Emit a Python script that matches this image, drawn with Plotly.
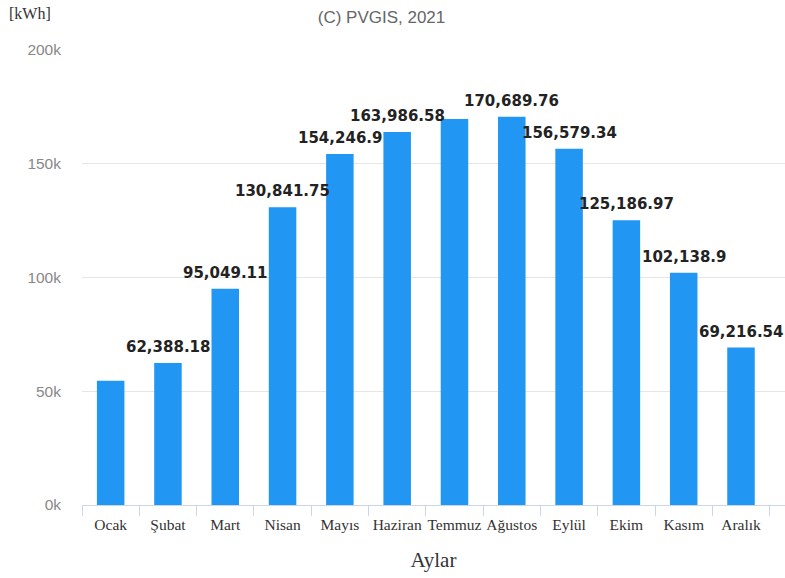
import plotly.graph_objects as go

# Monthly PV energy output (kWh)
months = ["Ocak", "Şubat", "Mart", "Nisan", "Mayıs", "Haziran",
          "Temmuz", "Ağustos", "Eylül", "Ekim", "Kasım", "Aralık"]
energy_kwh = [54600, 62388.18, 95049.11, 130841.75, 154246.9, 163986.58,
              169700, 170689.76, 156579.34, 125186.97, 102138.9, 69216.54]
# Which bars carry a value label
labelled = [False, True, True, True, True, True,
            False, True, True, True, True, True]

y_ticks = [0, 50000, 100000, 150000, 200000]
y_tick_text = ["0k", "50k", "100k", "150k", "200k"]

fig = go.Figure(go.Bar(
    x=months,
    y=energy_kwh,
    marker=dict(color="#2196F3", line=dict(width=0)),
    hoverinfo="x+y",
))

for m, v, show in zip(months, energy_kwh, labelled):
    if not show:
        continue
    txt = f"{v:,.2f}".rstrip("0").rstrip(".")
    fig.add_annotation(
        x=m, y=v, text=txt, showarrow=False, yshift=16,
        xanchor="center", yanchor="middle",
        font=dict(family="DejaVu Sans", size=15, color="#222222", weight="bold"),
    )

fig.add_annotation(
    xref="paper", yref="paper", x=-0.107, y=1.08,
    xanchor="left", yanchor="middle", showarrow=False,
    text="[kWh]",
    font=dict(family="Liberation Serif", size=16, color="#333333"),
)

fig.update_layout(
    width=785, height=578,
    margin=dict(l=82, r=0, t=50, b=73),
    paper_bgcolor="white", plot_bgcolor="white",
    bargap=0.52,
    showlegend=False,
    title=dict(
        text="(C) PVGIS, 2021",
        x=0.486, xanchor="center", xref="container",
        y=1 - 17 / 578, yanchor="middle", yref="container",
        font=dict(family="Liberation Sans", size=17, color="#666666"),
    ),
    xaxis=dict(
        type="category",
        automargin=False,
        tickangle=0,
        showline=True, linecolor="#ccd6eb", linewidth=1,
        ticks="outside", tickson="boundaries", ticklen=10, tickcolor="#ccd6eb",
        showgrid=False,
        ticklabelstandoff=5,
        tickfont=dict(family="Liberation Serif", size=15.5, color="#333333"),
        title=dict(text="Aylar", standoff=20,
                   font=dict(family="Liberation Serif", size=21, color="#333333")),
    ),
    yaxis=dict(
        automargin=False,
        range=[0, 200000],
        tickvals=y_ticks, ticktext=y_tick_text,
        showgrid=True, gridcolor="#e6e6e6", gridwidth=1,
        zeroline=False, showline=False,
        ticks="", ticklabelstandoff=20,
        tickfont=dict(family="Liberation Sans", size=15.5, color="#888888"),
    ),
)

fig.write_html("out.html")
